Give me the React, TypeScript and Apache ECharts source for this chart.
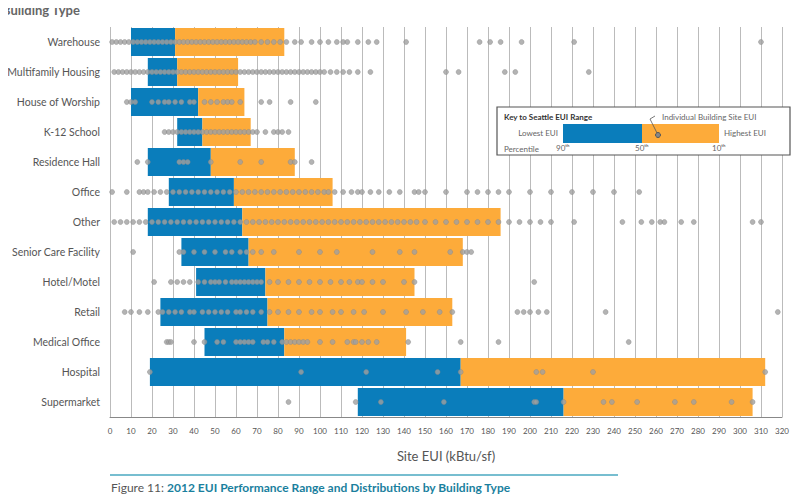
import React, { useEffect, useRef } from "react";
import * as echarts from "echarts";

const categories = [
  "Warehouse", "Multifamily Housing", "House of Worship", "K-12 School", "Residence Hall",
  "Office", "Other", "Senior Care Facility", "Hotel/Motel", "Retail", "Medical Office",
  "Hospital", "Supermarket",
];
const lowest = [10, 18, 10, 32, 18, 28, 18, 34, 41, 24, 45, 19, 118];
const median = [31, 32, 42, 44, 48, 59, 63, 66, 74, 75, 83, 167, 216];
const highest = [83, 61, 64, 67, 88, 106, 186, 168, 145, 163, 141, 312, 306];

const buildingEui: number[][] = [
  [1, 3, 5, 7, 9, 11, 13, 15, 17, 19, 21, 23, 25, 27, 29, 31, 33, 35, 37, 39, 41, 43, 45, 47, 49, 51, 53, 55, 57, 59, 61, 63, 65, 67, 69, 72, 75, 78, 81, 84, 88, 91, 96, 100, 104, 108, 111, 113, 118, 123, 127, 141, 176, 181, 186, 196, 221, 310],
  [2, 4, 6, 8, 10, 12, 14, 16, 18, 20, 22, 24, 26, 28, 30, 32, 34, 36, 38, 40, 42, 44, 46, 48, 50, 52, 54, 56, 58, 60, 62, 64, 66, 68, 70, 72, 74, 76, 78, 80, 82, 84, 86, 88, 90, 92, 94, 96, 98, 100, 102, 105, 108, 111, 114, 118, 124, 160, 166, 188, 193, 228],
  [8, 10, 12, 20, 23, 26, 28, 31, 34, 38, 40, 45, 48, 51, 54, 56, 58, 62, 72, 76, 86, 98],
  [26, 28, 30, 32, 34, 36, 38, 40, 42, 44, 46, 48, 50, 52, 54, 56, 58, 60, 62, 64, 66, 68, 70, 74, 78, 80, 82, 85],
  [13, 18, 33, 35, 37, 48, 62, 72, 86, 88, 96],
  [1, 8, 14, 16, 18, 21, 24, 27, 30, 33, 36, 39, 42, 45, 48, 51, 54, 57, 60, 63, 66, 69, 72, 75, 78, 81, 84, 87, 90, 93, 96, 99, 102, 104, 107, 111, 115, 118, 120, 124, 128, 133, 138, 145, 147, 150, 160, 170, 175, 180, 185, 190, 200, 210, 220, 230, 240, 252],
  [2, 5, 8, 11, 14, 17, 20, 23, 26, 29, 32, 35, 38, 41, 44, 47, 50, 53, 56, 59, 62, 65, 68, 71, 74, 77, 80, 83, 86, 89, 92, 95, 98, 101, 104, 107, 110, 113, 116, 119, 122, 125, 128, 131, 134, 137, 140, 143, 146, 150, 155, 160, 165, 170, 175, 180, 185, 190, 195, 200, 205, 210, 221, 244, 253, 258, 262, 264, 272, 278, 306, 310],
  [11, 33, 35, 40, 45, 50, 55, 58, 62, 65, 68, 72, 78, 90, 100, 108, 125, 138, 145, 162, 168, 170, 172],
  [21, 29, 32, 35, 38, 42, 45, 48, 50, 52, 55, 58, 60, 62, 64, 66, 68, 70, 72, 76, 80, 85, 90, 95, 100, 105, 110, 114, 118, 120, 125, 130, 140, 145, 202],
  [7, 10, 14, 18, 23, 25, 28, 31, 34, 38, 40, 44, 47, 50, 53, 56, 60, 62, 65, 68, 72, 76, 80, 85, 90, 96, 100, 106, 110, 116, 121, 130, 141, 149, 157, 163, 194, 197, 200, 204, 208, 236, 318],
  [27, 28, 29, 40, 45, 51, 54, 60, 62, 64, 66, 68, 73, 75, 78, 82, 84, 86, 88, 90, 92, 94, 100, 106, 113, 116, 117, 120, 123, 127, 142, 167, 185, 247],
  [19, 91, 122, 156, 167, 203, 206, 230, 312],
  [85, 117, 129, 159, 202, 203, 216, 235, 239, 251, 269, 278, 296, 306],
];

const BLUE = "#0a7dbb";
const ORANGE = "#fdab3a";
const FONT = "Lato";

export default function App() {
  const ref = useRef<HTMLDivElement>(null);

  useEffect(() => {
    if (!ref.current) return;
    const chart = echarts.init(ref.current, undefined, { renderer: "svg" });
    const points: [number, string][] = [];
    buildingEui.forEach((row, i) => row.forEach((v) => points.push([v, categories[i]])));

    const keyX = 497, keyY = 107;
    chart.setOption({
      animation: false,
      textStyle: { fontFamily: FONT },
      grid: { left: 110, right: 18, top: 27, height: 390 },
      xAxis: {
        type: "value", min: 0, max: 320, interval: 10,
        axisLine: { show: true, lineStyle: { color: "#888" } },
        axisTick: { show: false },
        axisLabel: { color: "#555", fontSize: 8, margin: 10 },
        splitLine: { lineStyle: { color: "#bbb" } },
        name: "Site EUI (kBtu/sf)", nameLocation: "middle", nameGap: 32,
        nameTextStyle: { color: "#555", fontSize: 13 },
      },
      yAxis: {
        type: "category", data: categories, inverse: true,
        axisLine: { show: false }, axisTick: { show: false },
        axisLabel: { color: "#555", fontSize: 10.5, margin: 10 },
      },
      series: [
        { type: "bar", stack: "s", data: lowest, barWidth: 28, itemStyle: { color: "transparent" }, silent: true },
        { type: "bar", stack: "s", data: median.map((m, i) => m - lowest[i]), itemStyle: { color: BLUE } },
        { type: "bar", stack: "s", data: highest.map((h, i) => h - median[i]), itemStyle: { color: ORANGE } },
        {
          type: "scatter", data: points, symbolSize: 5, z: 5,
          itemStyle: { color: "#a0a0a0", borderColor: "#888", borderWidth: 0.5 },
        },
      ],
      graphic: [
        { type: "text", left: 2, top: 3, style: { text: "Building Type", font: `bold 13px ${FONT}`, fill: "#666" } },
        { type: "rect", shape: { x: keyX, y: keyY, width: 293, height: 48 }, style: { fill: "#fff", stroke: "#555", lineWidth: 1.2 }, z: 10 },
        { type: "text", x: keyX + 7, y: keyY + 6, style: { text: "Key to Seattle EUI Range", font: `bold 8px ${FONT}`, fill: "#333" }, z: 11 },
        { type: "text", x: keyX + 165, y: keyY + 6, style: { text: "Individual Building Site EUI", font: `8px ${FONT}`, fill: "#666" }, z: 11 },
        { type: "rect", shape: { x: 563, y: keyY + 17, width: 79, height: 19 }, style: { fill: BLUE }, z: 11 },
        { type: "rect", shape: { x: 642, y: keyY + 17, width: 77, height: 19 }, style: { fill: ORANGE }, z: 11 },
        { type: "polyline", shape: { points: [[655, keyY + 9], [650, keyY + 12], [658, keyY + 28]] }, style: { stroke: "#555", lineWidth: 0.8, fill: "none" }, z: 12 },
        { type: "circle", shape: { cx: 658, cy: keyY + 28, r: 2.5 }, style: { fill: "#888", stroke: "#555" }, z: 12 },
        { type: "text", x: 558, y: keyY + 22, style: { text: "Lowest EUI", font: `8px ${FONT}`, fill: "#666", align: "right" }, z: 11 },
        { type: "text", x: 724, y: keyY + 22, style: { text: "Highest EUI", font: `8px ${FONT}`, fill: "#666" }, z: 11 },
        { type: "text", x: keyX + 7, y: keyY + 38, style: { text: "Percentile", font: `8px ${FONT}`, fill: "#666" }, z: 11 },
        { type: "text", x: 556, y: keyY + 37, style: { text: "90ᵗʰ", font: `8px ${FONT}`, fill: "#666" }, z: 11 },
        { type: "text", x: 635, y: keyY + 37, style: { text: "50ᵗʰ", font: `8px ${FONT}`, fill: "#666" }, z: 11 },
        { type: "text", x: 712, y: keyY + 37, style: { text: "10ᵗʰ", font: `8px ${FONT}`, fill: "#666" }, z: 11 },
        { type: "line", shape: { x1: 110, y1: 475, x2: 618, y2: 475 }, style: { stroke: "#4aa8c0", lineWidth: 1.5 } },
        {
          type: "text", x: 111, y: 481,
          style: {
            text: "{a|Figure 11: }{b|2012 EUI Performance Range and Distributions by Building Type}",
            rich: {
              a: { font: `12px ${FONT}`, fill: "#555" },
              b: { font: `bold 12px ${FONT}`, fill: "#1a7f9e" },
            },
          },
        },
      ],
    });
    return () => chart.dispose();
  }, []);

  return <div ref={ref} style={{ width: 800, height: 502, margin: -8 }} />;
}
